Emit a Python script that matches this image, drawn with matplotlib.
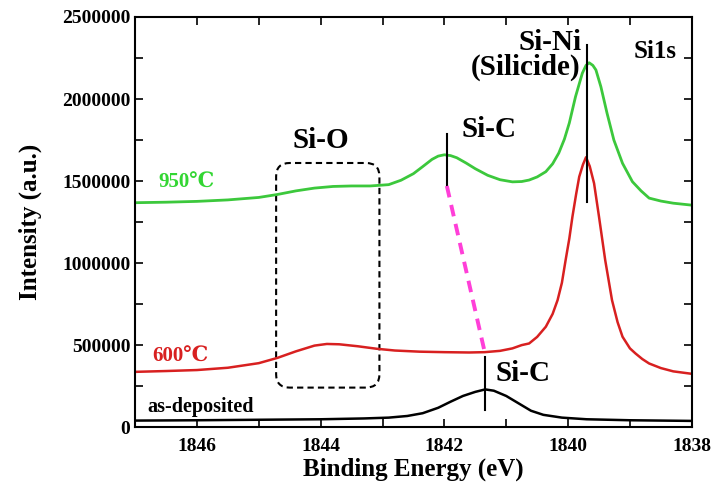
import matplotlib
matplotlib.use("Agg")
import matplotlib.pyplot as plt
from matplotlib.patches import FancyBboxPatch
from matplotlib.ticker import MultipleLocator, FuncFormatter

plt.rcParams['font.family'] = ['Liberation Serif', 'DejaVu Serif']
plt.rcParams['font.weight'] = 'bold'

# Binding energy (eV) and intensity (x1000 counts)
x_950 = [1847.0, 1846.5, 1846.0, 1845.5, 1845.0, 1844.7, 1844.4, 1844.1, 1843.8, 1843.5,
         1843.2, 1842.9, 1842.7, 1842.5, 1842.35, 1842.2, 1842.1, 1842.0, 1841.9, 1841.8,
         1841.65, 1841.5, 1841.3, 1841.1, 1840.9, 1840.75, 1840.63, 1840.5, 1840.36, 1840.25,
         1840.15, 1840.06, 1839.98, 1839.88, 1839.77, 1839.71, 1839.66, 1839.6, 1839.55, 1839.47,
         1839.37, 1839.26, 1839.12, 1838.96, 1838.82, 1838.69, 1838.5, 1838.3, 1838.0]
y_950 = [1368, 1371, 1376, 1385, 1400, 1418, 1440, 1457, 1467, 1470,
         1470, 1478, 1505, 1545, 1588, 1632, 1652, 1660, 1655, 1642,
         1610, 1575, 1535, 1508, 1495, 1497, 1506, 1525, 1557, 1605,
         1671, 1755, 1854, 2014, 2157, 2205, 2221, 2205, 2177, 2075,
         1913, 1750, 1608, 1496, 1440, 1396, 1378, 1365, 1353]

x_600 = [1847.0, 1846.5, 1846.0, 1845.5, 1845.0, 1844.7, 1844.4, 1844.1, 1843.9, 1843.7,
         1843.4, 1843.1, 1842.8, 1842.4, 1842.0, 1841.6, 1841.35, 1841.1, 1840.9, 1840.75,
         1840.63, 1840.5, 1840.36, 1840.25, 1840.17, 1840.1, 1840.04, 1839.98, 1839.93, 1839.87,
         1839.82, 1839.76, 1839.71, 1839.65, 1839.58, 1839.5, 1839.4, 1839.29, 1839.2, 1839.12,
         1839.0, 1838.91, 1838.8, 1838.69, 1838.5, 1838.3, 1838.0]
y_600 = [337, 342, 348, 362, 390, 422, 462, 497, 507, 505,
         493, 478, 467, 460, 457, 455, 457, 465, 480, 500,
         510, 550, 612, 690, 774, 880, 1018, 1150, 1282, 1420,
         1526, 1600, 1645, 1590, 1486, 1282, 1018, 774, 640, 551,
         480, 449, 415, 388, 360, 340, 325]

x_dep = [1847.0, 1846.0, 1845.0, 1844.0, 1843.3, 1842.9, 1842.6, 1842.35, 1842.1, 1841.9,
         1841.7, 1841.5, 1841.34, 1841.2, 1841.0, 1840.8, 1840.6, 1840.4, 1840.1, 1839.7,
         1839.0, 1838.5, 1838.0]
y_dep = [40, 42, 45, 48, 53, 58, 68, 85, 118, 155,
         190, 215, 230, 222, 190, 145, 100, 75, 58, 48,
         42, 40, 38]

scale = 1000

fig = plt.figure(figsize=(7.11, 4.99), dpi=100)
ax = fig.add_axes([0.19, 0.144, 0.783, 0.822])

green = '#3cc83c'
red = '#d82020'

ax.plot(x_950, [v * scale for v in y_950], color=green, lw=2.0)
ax.plot(x_600, [v * scale for v in y_600], color=red, lw=1.8)
ax.plot(x_dep, [v * scale for v in y_dep], color='black', lw=1.8)

# marker lines
ax.plot([1841.96, 1841.96], [1471000, 1787000], color='black', lw=1.5)
ax.plot([1839.70, 1839.70], [1373000, 2331000], color='black', lw=1.5)
ax.plot([1841.34, 1841.34], [103000, 429000], color='black', lw=1.5)
ax.plot([1841.96, 1841.35], [1470000, 461000], color='#ff3fd8', lw=2.8,
        ls=(0, (3, 2)))

# Si-O box
box = FancyBboxPatch((1843.05, 241000), 1.67, 1369000,
                     boxstyle="round,pad=0,rounding_size=0.22",
                     mutation_aspect=370000, fill=False, ec='black', lw=1.5,
                     ls=(0, (3, 2)))
ax.add_patch(box)

fw = 'bold'
ax.text(1844.0, 1746000, 'Si-O', ha='center', va='center', fontsize=21, fontweight=fw)
ax.text(1841.72, 1813000, 'Si-C', ha='left', va='center', fontsize=21, fontweight=fw)
ax.text(1839.78, 2347000, 'Si-Ni', ha='right', va='center', fontsize=21, fontweight=fw)
ax.text(1839.80, 2190000, '(Silicide)', ha='right', va='center', fontsize=21, fontweight=fw)
ax.text(1838.6, 2290000, 'Si1s', ha='center', va='center', fontsize=18, fontweight=fw)
ax.text(1841.18, 327000, 'Si-C', ha='left', va='center', fontsize=21, fontweight=fw)
ax.text(1846.62, 1492000, '950℃', ha='left', va='center', fontsize=15,
        fontweight=fw, color='#33d633')
ax.text(1846.72, 430000, '600℃', ha='left', va='center', fontsize=15,
        fontweight=fw, color=red)
ax.text(1846.8, 123000, 'as-deposited', ha='left', va='center', fontsize=14.5,
        fontweight=fw, color='black')

ax.set_xlim(1847, 1838)
ax.set_ylim(0, 2500000)
ax.xaxis.set_major_locator(MultipleLocator(2))
ax.xaxis.set_minor_locator(MultipleLocator(1))
ax.yaxis.set_major_locator(MultipleLocator(500000))
ax.yaxis.set_minor_locator(MultipleLocator(250000))
ax.xaxis.set_major_formatter(FuncFormatter(lambda v, p: f"{int(round(v))}"))
ax.yaxis.set_major_formatter(FuncFormatter(lambda v, p: f"{int(round(v))}"))
ax.tick_params(which='both', direction='in', top=True, right=True, length=6,
               width=1.2, labelsize=14)
ax.tick_params(axis='x', pad=8)
for lab in ax.get_xticklabels() + ax.get_yticklabels():
    lab.set_fontweight('bold')
for s in ax.spines.values():
    s.set_linewidth(1.5)

ax.set_xlabel('Binding Energy (eV)', fontsize=18, fontweight='bold', labelpad=2)
ax.set_ylabel('Intensity (a.u.)', fontsize=18, fontweight='bold', labelpad=14)

fig.savefig('out.png', dpi=100)
